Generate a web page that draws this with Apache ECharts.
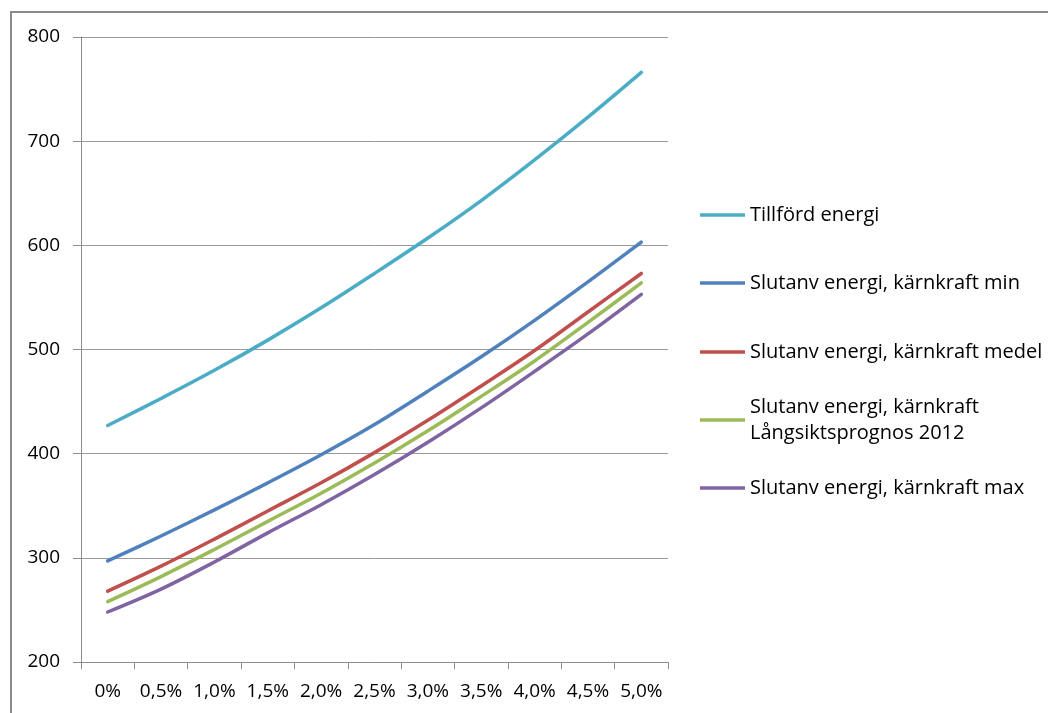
<!DOCTYPE html>
<html>
<head>
<meta charset="utf-8">
<script src="https://cdn.jsdelivr.net/npm/echarts@6/dist/echarts.min.js"></script>
<style>
html,body{margin:0;padding:0;background:#fff;}
#chart{width:1048px;height:713px;}
</style>
</head>
<body>
<div id="chart"></div>
<script>
const categories = ['0%','0,5%','1,0%','1,5%','2,0%','2,5%','3,0%','3,5%','4,0%','4,5%','5,0%'];
const tillford = [427, 453, 480, 509, 540, 573, 607, 643, 682, 723, 766];
const karnMin = [297, 321, 346, 372, 399, 428, 460, 493, 528, 565, 603];
const karnMedel = [268, 292, 318, 345, 372, 401, 432, 465, 499, 536, 573];
const karnLang = [258, 282, 308, 335, 362, 391, 422, 455, 489, 526, 564];
const karnMax = [248, 270, 296, 324, 351, 380, 411, 444, 479, 515, 553];
const yTicks = [200, 300, 400, 500, 600, 700, 800];

const names = ['Tillförd energi', 'Slutanv energi, kärnkraft min', 'Slutanv energi, kärnkraft medel',
  'Slutanv energi, kärnkraft Långsiktsprognos 2012', 'Slutanv energi, kärnkraft max'];
const colors = ['#4BACC6', '#4F81BD', '#C0504D', '#9BBB59', '#8064A2'];
const seriesData = [tillford, karnMin, karnMedel, karnLang, karnMax];

const FONT = 'Open Sans';
const FS = 20;
const legendTops = [202, 270, 339, 381, 475];

const chart = echarts.init(document.getElementById('chart'));
chart.setOption({
  animation: false,
  backgroundColor: '#fff',
  graphic: [{
    type: 'rect', silent: true, z: -1,
    shape: {x: 11, y: 12, width: 1200, height: 900},
    style: {fill: 'none', stroke: '#8a8a8a', lineWidth: 2}
  }],
  grid: {left: 81, right: 380, top: 37, bottom: 51, containLabel: false},
  xAxis: {
    type: 'category',
    data: categories,
    boundaryGap: true,
    axisLine: {lineStyle: {color: '#8c8c8c', width: 1}},
    axisTick: {show: true, interval: 0, length: 7, lineStyle: {color: '#8c8c8c'}},
    axisLabel: {interval: 0, margin: 20, color: '#000', fontFamily: FONT, fontSize: 19}
  },
  yAxis: {
    type: 'value',
    min: yTicks[0], max: yTicks[yTicks.length - 1], interval: 100,
    axisLine: {show: true, lineStyle: {color: '#8c8c8c', width: 1}},
    axisTick: {show: true, length: 8, lineStyle: {color: '#8c8c8c'}},
    axisLabel: {margin: 21, color: '#000', fontFamily: FONT, fontSize: 19},
    splitLine: {lineStyle: {color: '#9a9a9a', width: 1}}
  },
  legend: names.map((n, i) => ({
    data: [{name: n, icon: 'path://M0,0 L45,0 L45,3.5 L0,3.5 Z', itemStyle: {color: colors[i]}}],
    orient: 'vertical',
    left: 700,
    top: legendTops[i],
    padding: 0,
    itemWidth: 45,
    itemHeight: 26,
    selectedMode: false,
    formatter: (name) => name === names[3] ? 'Slutanv energi, kärnkraft\nLångsiktsprognos 2012' : name,
    textStyle: i === 3 ?
      {color: '#000', fontFamily: FONT, fontSize: FS, lineHeight: 26, padding: [26, 0, 0, 0]} :
      {color: '#000', fontFamily: FONT, fontSize: FS, lineHeight: 26}
  })),
  series: names.map((n, i) => ({
    name: n,
    type: 'line',
    data: seriesData[i],
    smooth: 0.35,
    symbol: 'none',
    color: colors[i],
    lineStyle: {width: 3.5, color: colors[i], cap: 'round'}
  }))
});
</script>
</body>
</html>
